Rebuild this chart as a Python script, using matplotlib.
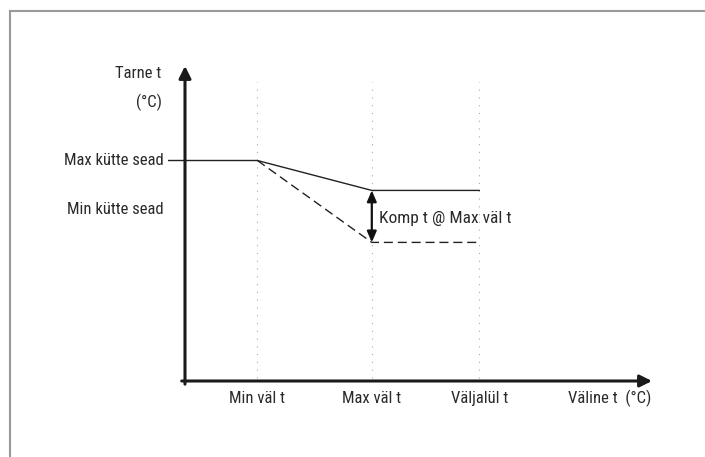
import matplotlib
matplotlib.use('Agg')
import matplotlib.pyplot as plt
from matplotlib.lines import Line2D

plt.rcParams['font.family'] = ['Roboto Condensed', 'DejaVu Sans']

# schematic values, axes run 0..10 in both directions
x_ticks = [1.55, 4.0, 6.3]
x_tick_labels = ['Min väl t', 'Max väl t', 'Väljalül t']
x_title = 'Väline t  (°C)'
y_title = ['Tarne t', '(°C)']

max_heat = 7.0          # Max kütte sead
min_heat_label = 5.45   # where the "Min kütte sead" label sits
comp_level = 6.05       # solid curve at Max väl t
min_level = 4.4         # dashed curve at Max väl t

solid_x = [-0.35, x_ticks[0], x_ticks[1], x_ticks[2]]
solid_y = [max_heat, max_heat, comp_level, comp_level]
dashed_x = [x_ticks[0], x_ticks[1], x_ticks[2]]
dashed_y = [max_heat, min_level, min_level]

fig = plt.figure(figsize=(7.05, 4.57), dpi=100)
ax = fig.add_axes([185 / 705, 76 / 457, 467 / 705, 315 / 457])
ax.set_xlim(0, 10)
ax.set_ylim(0, 10)
ax.axis('off')

# frame (left + top only)
fig.add_artist(Line2D([9.5 / 705, 9.5 / 705], [0, 1 - 11 / 457], color='#999999', lw=1.5))
fig.add_artist(Line2D([9.5 / 705, 1], [1 - 11 / 457, 1 - 11 / 457], color='#999999', lw=1.5))

# dotted guides
for xv in x_ticks:
    ax.plot([xv, xv], [0.1, 9.5], color='#aaaaaa', lw=0.8, linestyle=(0, (1, 6)), clip_on=False)

# axes with arrows
arrow_kw = dict(arrowstyle='-|>,head_length=0.6,head_width=0.3', color='#1a1a1a', lw=2.2,
                mutation_scale=12, shrinkA=0, shrinkB=0)
ax.annotate('', xy=(10, 0), xytext=(-0.07, 0), arrowprops=arrow_kw, annotation_clip=False)
ax.annotate('', xy=(0, 10), xytext=(0, -0.1), arrowprops=arrow_kw, annotation_clip=False)

# curves
ax.plot(solid_x, solid_y, color='#222222', lw=1.0, clip_on=False)
ax.plot(dashed_x, dashed_y, color='#222222', lw=1.0, linestyle=(0, (6.5, 3.5)), clip_on=False)

# compensation arrow
ax.annotate('', xy=(x_ticks[1], comp_level), xytext=(x_ticks[1], min_level),
            arrowprops=dict(arrowstyle='<|-|>,head_length=0.65,head_width=0.28', color='#111111',
                            lw=1.6, mutation_scale=10, shrinkA=0, shrinkB=0))
ax.text(x_ticks[1] + 0.15, (comp_level + min_level) / 2 - 0.08, 'Komp t @ Max väl t',
        fontsize=12.5, color='#2a2a2a', va='center', ha='left')

# labels
txt = dict(fontsize=12, color='#2a2a2a', clip_on=False)
ax.text(-0.45, max_heat, 'Max kütte sead', ha='right', va='center', **txt)
ax.text(-0.45, min_heat_label, 'Min kütte sead', ha='right', va='center', **txt)
ax.text(-0.5, 9.75, y_title[0], ha='right', va='center', **txt)
ax.text(-0.5, 8.83, y_title[1], ha='right', va='center', **txt)
for xv, lab in zip(x_ticks, x_tick_labels):
    ax.text(xv, -0.55, lab, ha='center', va='center', **txt)
ax.text(9.1, -0.55, x_title, ha='center', va='center', **txt)

fig.savefig('out.png', dpi=100, facecolor='white')
